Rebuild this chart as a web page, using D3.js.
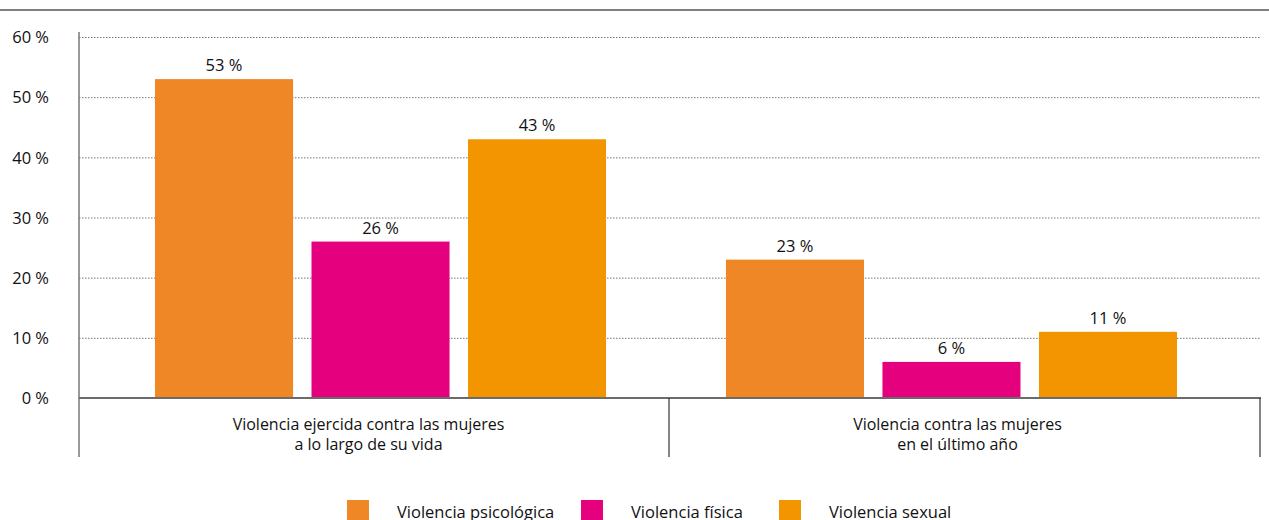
<!DOCTYPE html>
<html>
<head>
<meta charset="utf-8">
<script src="https://cdn.jsdelivr.net/npm/d3@7"></script>
<style>
  body { margin: 0; background: #fff; }
  text { font-family: "Open Sans", "Noto Sans", sans-serif; fill: #111; }
</style>
</head>
<body>
<script>
var width = 1269,
    height = 520;

// data
var groups = [
    ["Violencia ejercida contra las mujeres", "a lo largo de su vida"],
    ["Violencia contra las mujeres", "en el último año"]
];
var seriesNames = ["Violencia psicológica", "Violencia física", "Violencia sexual"];
var seriesColors = ["#f08727", "#e5007e", "#f39500"];
var psicologica = [53, 23];
var fisica = [26, 6];
var sexual = [43, 11];
var yTicks = [0, 10, 20, 30, 40, 50, 60];

var series = [psicologica, fisica, sexual];

var plotLeft = 79,
    plotRight = 1260,
    plotTop = 37,
    plotBottom = 398;

var svg = d3.select("body").append("svg")
    .attr("width", width)
    .attr("height", height);

// grey rule across the top
svg.append("line")
    .attr("x1", 0).attr("x2", width)
    .attr("y1", 10).attr("y2", 10)
    .style("stroke", "#808080")
    .style("stroke-width", 2);

var y = d3.scaleLinear()
    .domain([0, 60])
    .range([plotBottom, plotTop]);

var x0 = d3.scaleBand()
    .domain(d3.range(groups.length))
    .range([155, 1177])
    .paddingInner(0.21);

var x1 = d3.scaleBand()
    .domain(d3.range(series.length))
    .range([0, x0.bandwidth()])
    .paddingInner(0.118);

// gridlines
svg.append("g").selectAll("line")
    .data(yTicks.filter(function(d) { return d > 0; }))
    .enter().append("line")
    .attr("x1", plotLeft)
    .attr("x2", plotRight + 1)
    .attr("y1", function(d) { return y(d) + 0.5; })
    .attr("y2", function(d) { return y(d) + 0.5; })
    .style("stroke", "#555")
    .style("stroke-width", 0.8)
    .style("stroke-dasharray", "1.5,1.5");

// y axis labels
var yAxis = d3.axisLeft(y)
    .tickValues(yTicks)
    .tickSize(0)
    .tickPadding(30)
    .tickFormat(function(d) { return d + " %"; });

var gy = svg.append("g")
    .attr("transform", "translate(" + plotLeft + ",0)")
    .call(yAxis);
gy.select(".domain").remove();
gy.selectAll("text")
    .style("font-size", "16.5px")
    .style("font-family", null)
    .attr("fill", "#111")
    .attr("dy", "0.35em");

// bars
var bars = [];
series.forEach(function(s, si) {
    s.forEach(function(v, gi) {
        bars.push({ s: si, g: gi, v: v });
    });
});

svg.append("g").selectAll("rect")
    .data(bars)
    .enter().append("rect")
    .attr("x", function(d) { return x0(d.g) + x1(d.s); })
    .attr("width", x1.bandwidth())
    .attr("y", function(d) { return y(d.v); })
    .attr("height", function(d) { return y(0) - y(d.v); })
    .style("fill", function(d) { return seriesColors[d.s]; });

svg.append("g").selectAll("text")
    .data(bars)
    .enter().append("text")
    .attr("x", function(d) { return x0(d.g) + x1(d.s) + x1.bandwidth() / 2; })
    .attr("y", function(d) { return y(d.v) - 8; })
    .attr("text-anchor", "middle")
    .style("font-size", "16.5px")
    .text(function(d) { return d.v + " %"; });

// y axis line
svg.append("line")
    .attr("x1", plotLeft).attr("x2", plotLeft)
    .attr("y1", 32).attr("y2", 457)
    .style("stroke", "#777")
    .style("stroke-width", 1.5);

// baseline
svg.append("line")
    .attr("x1", plotLeft).attr("x2", plotRight + 1)
    .attr("y1", y(0)).attr("y2", y(0))
    .style("stroke", "#6b6b6b")
    .style("stroke-width", 2);

// category separators
var seps = [(x0(0) + x0.bandwidth() + x0(1)) / 2 + 3, plotRight];
svg.append("g").selectAll("line")
    .data(seps)
    .enter().append("line")
    .attr("x1", function(d) { return d; })
    .attr("x2", function(d) { return d; })
    .attr("y1", y(0))
    .attr("y2", 457)
    .style("stroke", "#333")
    .style("stroke-width", 1.2);

// category labels
var cat = svg.append("g").selectAll("text")
    .data(groups)
    .enter().append("text")
    .attr("text-anchor", "middle")
    .style("font-size", "16px")
    .attr("transform", function(d, i) {
        return "translate(" + (x0(i) + x0.bandwidth() / 2 - (i === 0 ? 12 : -6)) + ",430)";
    });
cat.selectAll("tspan")
    .data(function(d) { return d; })
    .enter().append("tspan")
    .attr("x", 0)
    .attr("dy", function(d, i) { return i === 0 ? 0 : 20; })
    .text(function(d) { return d; });

// legend
var legendX = [347, 581, 779];
var legend = svg.append("g").selectAll("g")
    .data(seriesNames)
    .enter().append("g")
    .attr("transform", function(d, i) { return "translate(" + legendX[i] + ",500)"; });

legend.append("rect")
    .attr("width", 22)
    .attr("height", 20)
    .style("fill", function(d, i) { return seriesColors[i]; });

legend.append("text")
    .attr("x", 50)
    .attr("y", 18)
    .style("font-size", "16.5px")
    .text(function(d) { return d; });
</script>
</body>
</html>
